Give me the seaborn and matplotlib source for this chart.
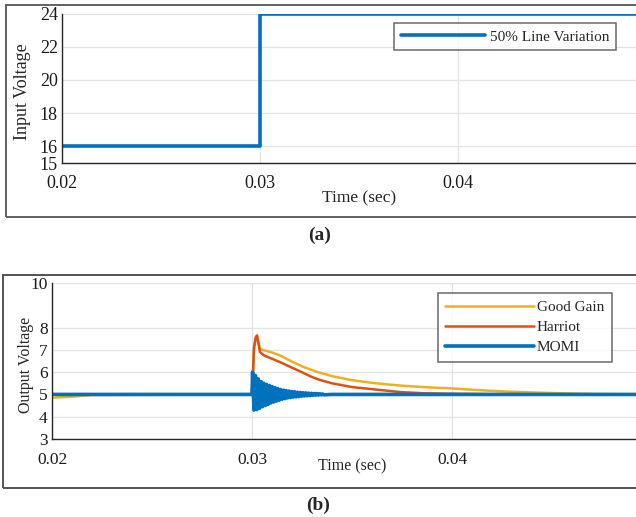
import matplotlib
matplotlib.use("Agg")
import matplotlib.pyplot as plt
import seaborn as sns
import pandas as pd
from matplotlib.patches import Rectangle

# ---------------- data ----------------
# (a) input voltage step
t_in = [0.0200, 0.0300, 0.0300, 0.0492]
v_in = [16, 16, 24, 24]

# (b) output voltage responses
t_gg = [0.0200, 0.0210, 0.0220, 0.0300, 0.03005, 0.0301, 0.03018, 0.03025,
        0.0304, 0.0306, 0.0310, 0.0314, 0.0320, 0.0326, 0.0332, 0.0340,
        0.0350, 0.0360, 0.0370, 0.0380, 0.0390, 0.0400, 0.0410, 0.0420,
        0.0430, 0.0440, 0.0455, 0.0470, 0.0492]
v_gg = [4.85, 4.90, 4.97, 5.00, 6.0, 7.0, 7.5, 7.6,
        7.05, 6.98, 6.88, 6.75, 6.47, 6.22, 6.03, 5.82,
        5.64, 5.52, 5.43, 5.36, 5.31, 5.27, 5.21, 5.16,
        5.12, 5.09, 5.05, 5.02, 5.0]

t_ha = [0.0200, 0.0300, 0.03005, 0.0301, 0.03018, 0.03025, 0.0304, 0.0306,
        0.0310, 0.0314, 0.0320, 0.03225, 0.0326, 0.0330, 0.0334, 0.0340,
        0.0350, 0.0364, 0.0375, 0.0387, 0.0400, 0.0420, 0.0492]
v_ha = [5.0, 5.0, 6.0, 7.1, 7.55, 7.65, 6.9, 6.75,
        6.6, 6.45, 6.2, 6.1, 5.95, 5.78, 5.65, 5.5,
        5.33, 5.2, 5.1, 5.05, 5.03, 5.01, 5.0]

t_mo = [0.0200, 0.03000, 0.03003, 0.03010, 0.03017, 0.03024, 0.03031, 0.03038,
        0.03045, 0.03052, 0.03059, 0.03066, 0.03073, 0.03080, 0.03087, 0.03094,
        0.03101, 0.03108, 0.03115, 0.03122, 0.03129, 0.03136, 0.03143, 0.03150,
        0.03157, 0.03164, 0.03171, 0.03178, 0.03185, 0.03192, 0.03199, 0.03206,
        0.03213, 0.03220, 0.03227, 0.03234, 0.03241, 0.03248, 0.03255, 0.03262,
        0.03269, 0.03276, 0.03283, 0.03290, 0.03297, 0.03304, 0.03311, 0.03318,
        0.03325, 0.03332, 0.03339, 0.03346, 0.03353, 0.03360, 0.0340, 0.0492]
v_mo = [5.0, 5.0, 6.0, 4.3, 5.85, 4.32, 5.7, 4.38,
        5.58, 4.45, 5.5, 4.5, 5.45, 4.55, 5.4, 4.62,
        5.35, 4.66, 5.3, 4.7, 5.26, 4.74, 5.22, 4.78,
        5.19, 4.81, 5.17, 4.84, 5.15, 4.86, 5.13, 4.88,
        5.12, 4.89, 5.1, 4.9, 5.09, 4.92, 5.08, 4.93,
        5.07, 4.94, 5.06, 4.95, 5.05, 4.96, 5.04, 4.97,
        5.04, 4.97, 5.03, 4.98, 5.02, 4.98, 5.0, 5.0]

xticks = [0.02, 0.03, 0.04]
xtick_labels = ["0.02", "0.03", "0.04"]
yticks_a = [15, 16, 18, 20, 22, 24]
yticks_b = [3, 4, 5, 6, 7, 8, 10]

C_BLUE = "#0072BD"
C_ORANGE = "#D95319"
C_YELLOW = "#EDB120"
AX_COL = "#262626"

# ---------------- style ----------------
sns.set_theme(style="white")
plt.rcParams["font.family"] = ["Liberation Serif", "DejaVu Serif"]

W, H = 636, 517
fig = plt.figure(figsize=(W / 100, H / 100), dpi=100)
fig.patch.set_facecolor("white")


def fx(px):
    return px / W


def fy(py):
    return 1 - py / H


# panel frames
fig.patches.append(Rectangle((fx(6), fy(217)), fx(640) - fx(6), fy(5) - fy(217),
                             transform=fig.transFigure, fill=False,
                             edgecolor="#555555", lw=1.3, zorder=0))
fig.patches.append(Rectangle((fx(3), fy(488)), fx(640) - fx(3), fy(275) - fy(488),
                             transform=fig.transFigure, fill=False,
                             edgecolor="#444444", lw=1.3, zorder=0))


def style_axes(ax, fs):
    for s in ["top", "right"]:
        ax.spines[s].set_visible(False)
    for s in ["left", "bottom"]:
        ax.spines[s].set_color(AX_COL)
        ax.spines[s].set_linewidth(1.0)
    ax.grid(True, color="#e3e3e3", lw=0.9)
    ax.set_axisbelow(True)
    ax.tick_params(direction="in", length=4, width=0.9, colors=AX_COL,
                   labelcolor="#1a1a1a", labelsize=fs)
    ax.tick_params(axis="x", pad=9)
    ax.tick_params(axis="y", pad=3)


# ---------------- (a) ----------------
ax1 = fig.add_axes([fx(62), fy(163), fx(636) - fx(62), fy(13.5) - fy(163)])
df_a = pd.DataFrame({"t": t_in, "v": v_in, "s": "50% Line Variation"})
sns.lineplot(data=df_a, x="t", y="v", hue="s", palette=[C_BLUE],
             estimator=None, sort=False, lw=2.6, ax=ax1)
ax1.set_xlim(0.02, 0.04899)
ax1.set_ylim(15, 24)
ax1.set_xticks(xticks)
ax1.set_xticklabels(xtick_labels)
ax1.set_yticks(yticks_a)
style_axes(ax1, 13)
ax1.set_xlabel("Time (sec)", fontsize=12.5)
ax1.xaxis.set_label_coords((359 - 62) / 574, (163 - 190) / 149.5)
ax1.set_ylabel("Input Voltage", fontsize=13)
ax1.yaxis.set_label_coords((31 - 62) / 574, (163 - 92) / 149.5)
leg1 = ax1.legend(loc="upper right", bbox_to_anchor=(fx(616), fy(23)),
                  bbox_transform=fig.transFigure, frameon=True, fancybox=False,
                  edgecolor="#444444", fontsize=11, handlelength=5.5,
                  borderpad=0.45, handletextpad=0.3, borderaxespad=0)
leg1.get_frame().set_linewidth(1.1)
for ln in leg1.get_lines():
    ln.set_linewidth(2.6)

fig.text(fx(320), fy(235), "(a)", ha="center", va="center",
         fontsize=14, fontweight="bold")

# ---------------- (b) ----------------
ax2 = fig.add_axes([fx(52), fy(439), fx(636) - fx(52), fy(283) - fy(439)])
df_b = pd.concat([
    pd.DataFrame({"t": t_gg, "v": v_gg, "s": "Good Gain"}),
    pd.DataFrame({"t": t_ha, "v": v_ha, "s": "Harriot"}),
    pd.DataFrame({"t": t_mo, "v": v_mo, "s": "MOMI"}),
], ignore_index=True)
sns.lineplot(data=df_b, x="t", y="v", hue="s",
             palette=[C_YELLOW, C_ORANGE, C_BLUE],
             estimator=None, sort=False, lw=1.8, ax=ax2)
ax2.get_lines()[2].set_linewidth(2.6)
ax2.set_xlim(0.02, 0.0492)
ax2.set_ylim(3, 10)
ax2.set_xticks(xticks)
ax2.set_xticklabels(xtick_labels)
ax2.set_yticks(yticks_b)
style_axes(ax2, 12.5)
ax2.set_xlabel("Time (sec)", fontsize=11.5)
ax2.xaxis.set_label_coords((352 - 52) / 584, (439 - 458) / 156)
ax2.set_ylabel("Output Voltage", fontsize=11.5)
ax2.yaxis.set_label_coords((34 - 52) / 584, (439 - 365) / 156)
leg2 = ax2.legend(loc="upper right", bbox_to_anchor=(fx(612), fy(293)),
                  bbox_transform=fig.transFigure, frameon=True, fancybox=False,
                  edgecolor="#444444", fontsize=11, handlelength=5.8,
                  borderpad=0.5, handletextpad=0.2, labelspacing=0.4,
                  borderaxespad=0)
leg2.get_frame().set_linewidth(1.1)
for ln, w in zip(leg2.get_lines(), [1.8, 1.8, 2.6]):
    ln.set_linewidth(w)

fig.text(fx(318), fy(505), "(b)", ha="center", va="center",
         fontsize=14, fontweight="bold")

fig.savefig("out.png", dpi=100, facecolor="white")
